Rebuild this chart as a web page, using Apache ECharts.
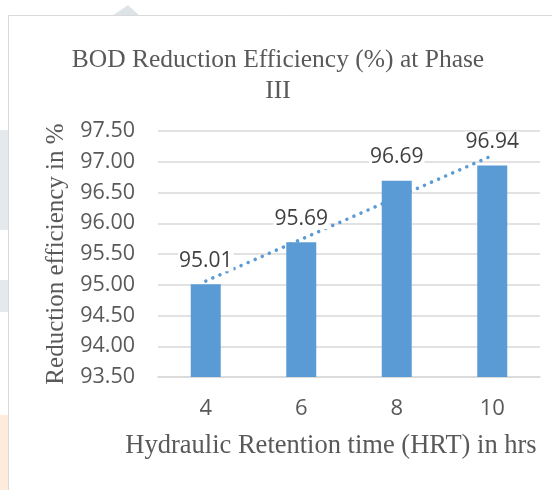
<!DOCTYPE html>
<html>
<head>
<meta charset="utf-8">
<script src="https://cdn.jsdelivr.net/npm/echarts@6/dist/echarts.min.js"></script>
<style>html,body{margin:0;padding:0;background:#fff;}#c{width:552px;height:490px;}</style>
</head>
<body>
<div id="c"></div>
<script>
var categories = ['4', '6', '8', '10'];
var values = [95.01, 95.69, 96.69, 96.94];
var trendValues = [95.06, null, null, 97.10];
var yTicks = { min: 93.5, max: 97.5, interval: 0.5 };
var titleText = 'BOD Reduction Efficiency (%) at Phase\nIII';
var xName = 'Hydraulic Retention time (HRT) in hrs';
var yName = 'Reduction efficiency in %';

var chart = echarts.init(document.getElementById('c'), null, {renderer: 'canvas'});
chart.setOption({
  backgroundColor: '#ffffff',
  animation: false,
  graphic: [
    {type: 'rect', z: -10, shape: {x: 0, y: 130, width: 8, height: 100}, style: {fill: '#e3e9ec'}},
    {type: 'rect', z: -10, shape: {x: 0, y: 280, width: 8, height: 32}, style: {fill: '#e3e9ec'}},
    {type: 'rect', z: -10, shape: {x: 0, y: 415, width: 8, height: 75}, style: {fill: '#fdecdc'}},
    {type: 'polygon', z: -10, shape: {points: [[112, 16], [128, 5], [140, 16]]}, style: {fill: '#dde4e8'}},
    {type: 'rect', z: -5, shape: {x: 8.5, y: 15.5, width: 600, height: 600}, style: {fill: 'none', stroke: '#d9d9d9', lineWidth: 1}}
  ],
  title: {
    text: titleText,
    left: 273, top: 40, textAlign: 'center',
    textStyle: {fontFamily: 'Liberation Serif', fontSize: 25.5, fontWeight: 'normal', color: '#595959', lineHeight: 31}
  },
  grid: {left: 158, right: 12, top: 131, bottom: 113, containLabel: false},
  xAxis: {
    type: 'category', data: categories,
    axisLine: {lineStyle: {color: '#d9d9d9', width: 1.5}},
    axisTick: {show: false},
    axisLabel: {fontFamily: 'Open Sans', fontSize: 22, color: '#595959', margin: 21},
    name: xName, nameLocation: 'middle', nameGap: 56,
    nameTextStyle: {fontFamily: 'Liberation Serif', fontSize: 26.5, color: '#595959', padding: [0, 36, 0, 0]}
  },
  yAxis: {
    type: 'value', min: yTicks.min, max: yTicks.max, interval: yTicks.interval,
    axisLine: {show: false}, axisTick: {show: false},
    splitLine: {lineStyle: {color: '#d9d9d9', width: 1.5}},
    axisLabel: {fontFamily: 'Open Sans', fontSize: 21.5, color: '#595959', margin: 23,
      formatter: function (v) { return v.toFixed(2); }},
    name: yName, nameLocation: 'middle', nameGap: 84, nameRotate: 90,
    nameTextStyle: {fontFamily: 'Liberation Serif', fontSize: 25, color: '#595959'}
  },
  series: [
    {
      type: 'line', data: trendValues, connectNulls: true, symbol: 'none', z: 1,
      lineStyle: {color: '#5b9bd5', width: 3.5, type: [0.1, 7.6], cap: 'round'},
      silent: true
    },
    {
      type: 'bar', data: values, barWidth: 30, z: 3,
      itemStyle: {color: '#5b9bd5'},
      label: {show: true, position: 'top', distance: 13, fontFamily: 'Open Sans', fontSize: 21,
        color: '#404040', backgroundColor: '#ffffff', padding: [0, 1, 0, 1],
        formatter: function (p) { return p.value.toFixed(2); }}
    }
  ]
});
</script>
</body>
</html>
